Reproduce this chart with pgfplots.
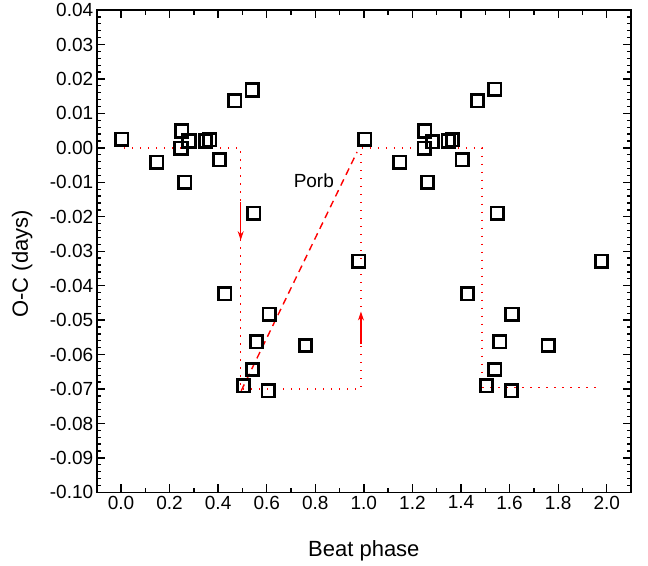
\documentclass[border=0pt]{standalone}
\usepackage{fontspec}
\setmainfont{Liberation Sans}
\usepackage{pgfplots}
\pgfplotsset{compat=1.18}
\usetikzlibrary{arrows.meta}

\begin{document}
\begin{tikzpicture}
  \begin{axis}[
    scale only axis,
    width=534.3pt, height=482.3pt,
    xmin=-0.1, xmax=2.1,
    ymin=-0.10, ymax=0.04,
    xtick={0,0.2,...,2.01},
    ytick={-0.10,-0.09,...,0.041},
    minor x tick num=1,
    minor y tick num=4,
    tick align=inside,
    tick pos=both,
    xticklabel pos=lower, yticklabel pos=left,
    major tick length=8pt, minor tick length=4.5pt,
    axis line style={line width=1.6pt},
    every tick/.style={black, line width=1.3pt},
    /pgf/number format/assume math mode=true,
    xticklabel style={/pgf/number format/.cd, fixed, fixed zerofill, precision=1},
    yticklabel style={/pgf/number format/.cd, fixed, fixed zerofill, precision=2},
    tick label style={font=\fontsize{19}{23}\selectfont},
    scaled y ticks=false,
    xlabel={Beat phase},
    ylabel={O-C (days)},
    label style={font=\fontsize{22}{26}\selectfont},
    xlabel style={at={(axis description cs:0.5,-0.1335)}, anchor=base},
    ylabel style={at={(axis description cs:-0.1286,0.4736)}, anchor=base},
    clip=false,
  ]
    % data
    \addplot[only marks, mark=square, mark size=6.2pt, mark options={line width=2.7pt, black}] table {
      x y
      0.003 0.0025
      0.148 -0.0042
      0.250 0.0049
      0.247 -0.0001
      0.280 0.0020
      0.263 -0.0100
      0.348 0.0020
      0.366 0.0023
      0.405 -0.0035
      0.469 0.0137
      0.540 0.0168
      0.547 -0.0190
      0.428 -0.0424
      0.610 -0.0483
      0.558 -0.0563
      0.760 -0.0574
      0.542 -0.0643
      0.505 -0.0691
      0.606 -0.0705
      1.004 0.0025
      0.979 -0.0329
      1.148 -0.0042
      1.251 0.0049
      1.248 -0.0001
      1.283 0.0018
      1.262 -0.0100
      1.347 0.0020
      1.365 0.0023
      1.405 -0.0035
      1.468 0.0137
      1.539 0.0170
      1.549 -0.0190
      1.978 -0.0329
      1.427 -0.0424
      1.610 -0.0483
      1.560 -0.0563
      1.759 -0.0574
      1.539 -0.0643
      1.505 -0.0691
      1.608 -0.0705
    };

    % guide lines, drawn over the marks
    \addplot[red, line width=1.3pt, dash pattern=on 1.3pt off 6.7pt] coordinates {
      (0.013,0) (0.493,0) (0.493,-0.070) (0.988,-0.070) (0.988,0) (1.487,0) (1.487,-0.0695) (1.975,-0.0695)
    };
    \addplot[red, line width=1.4pt, dash pattern=on 7pt off 5pt] coordinates {
      (0.495,-0.0705) (0.972,-0.0012)
    };
    \addplot[red, line width=1.2pt, -{Stealth[length=9pt,width=6pt]}] coordinates {
      (0.493,-0.0158) (0.493,-0.0268)
    };
    \addplot[red, line width=1.2pt, -{Stealth[length=9pt,width=6pt]}] coordinates {
      (0.988,-0.0570) (0.988,-0.0475)
    };

    \node[font=\fontsize{19}{23}\selectfont] at (axis cs:0.794,-0.0096) {Porb};

    \path (rel axis cs:-0.181,-0.1507) rectangle (rel axis cs:1.0318,1.0207);
  \end{axis}
\end{tikzpicture}
\end{document}
